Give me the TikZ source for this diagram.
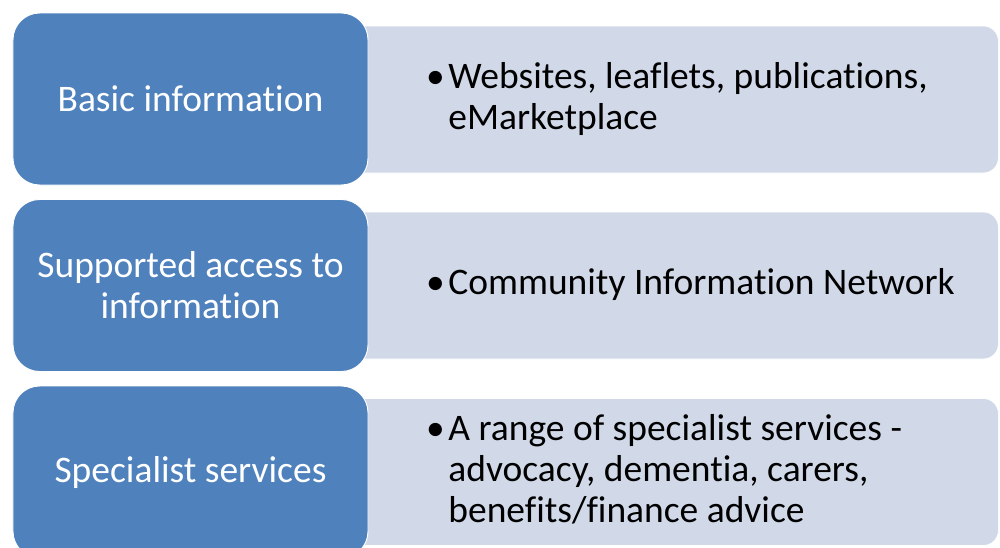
\documentclass[tikz,border=0pt]{standalone}
\usepackage{fontspec}
\setmainfont{Carlito}[Ligatures=NoCommon]
\usepackage{tikz}

\definecolor{levelblue}{HTML}{4F81BD}
\definecolor{detailblue}{HTML}{D1D9E9}

\tikzset{
  levelbox/.style={rectangle, rounded corners=0.8cm, fill=levelblue, draw=white,
    line width=0.8pt, minimum width=10.65cm, minimum height=5.16cm,
    text=white, align=center, font=\fontsize{32}{35}\selectfont},
  detailbox/.style={rectangle, rounded corners=0.45cm, fill=detailblue, draw=white,
    line width=0.6pt, minimum width=19.74cm, minimum height=4.41cm, anchor=west},
  detailtext/.style={anchor=west, inner sep=0pt, align=left,
    font=\fontsize{32}{35}\selectfont}
}

\begin{document}
\begin{tikzpicture}[x=0.03cm,y=-0.03cm]
        \useasboundingbox (0,0) rectangle (1000,547);
        \clip (0,0) rectangle (1000,547);
        %右侧浅色框
        \node[detailbox] (detail1) at (340,99.5) {};
        \node[detailbox] (detail2) at (340,285.5) {};
        \node[detailbox] (detail3) at (340,472) {};
        %左侧蓝色框
        \node[levelbox] (basic) at (190.5,99) {Basic information};
        \node[levelbox] (supported) at (190.5,285.5) {Supported access to\\information};
        \node[levelbox] (specialist) at (190.5,472) {Specialist services};
        %条目文字
        \node[detailtext] (basictext) at (426,101)
                {\begin{tabular}{@{}l@{\hspace{3pt}}l@{}}
                \textbullet & Websites, leaflets, publications,\\
                            & eMarketplace
                \end{tabular}};
        \node[detailtext] (supportedtext) at (426,286)
                {\begin{tabular}{@{}l@{\hspace{3pt}}l@{}}
                \textbullet & Community Information Network
                \end{tabular}};
        \node[detailtext] (specialisttext) at (426,473)
                {\begin{tabular}{@{}l@{\hspace{3pt}}l@{}}
                \textbullet & A range of specialist services -\\
                            & advocacy, dementia, carers,\\
                            & benefits/finance advice
                \end{tabular}};
\end{tikzpicture}
\end{document}
